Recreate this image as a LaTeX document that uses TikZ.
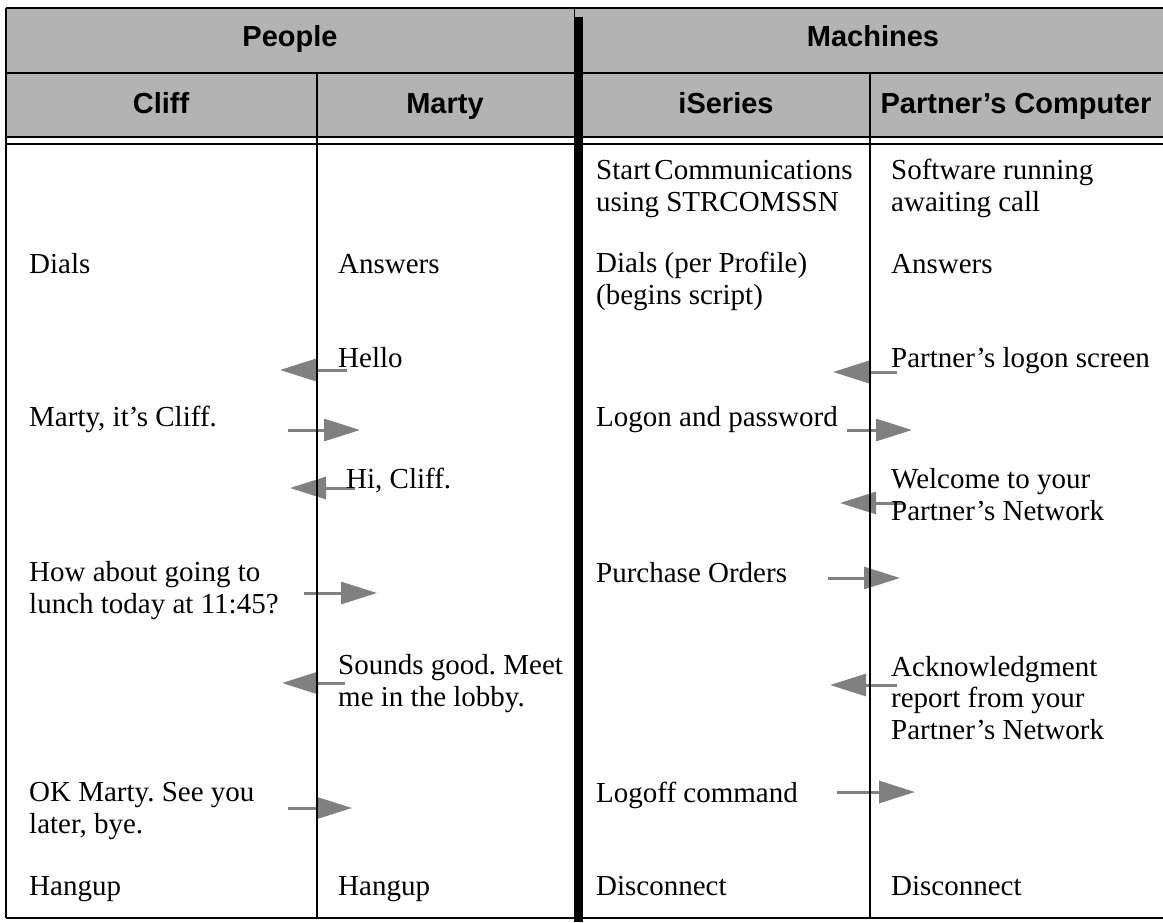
\documentclass[tikz,border=0pt]{standalone}
\usepackage{fontspec}
\setmainfont{Liberation Serif}
\setsansfont{Liberation Sans}
\usetikzlibrary{arrows.meta}
\newcommand{\XL}{6}
\newcommand{\XR}{1163}
\newcommand{\XP}{317}
\newcommand{\XM}{870}
\newcommand{\YB}{918}
\definecolor{hdgray}{RGB}{179,179,179}
\definecolor{msggray}{RGB}{128,128,128}

\begin{document}
\frenchspacing
\begin{tikzpicture}[
    x=1pt, y=-1pt,
    rule/.style={draw=black, line width=2pt},
    col/.style={draw=black, line width=1.5pt},
    msg/.style={draw=msggray, line width=3pt, -{Triangle[length=36pt,width=22pt]}},
    head/.style={anchor=base, inner sep=0pt, font=\sffamily\bfseries\fontsize{29}{32}\selectfont},
    cell/.style={anchor=base west, align=left, inner sep=0pt, font=\fontsize{29}{31.5}\selectfont},
  ]
  \useasboundingbox (0,0) rectangle (\XR,922);

  %% ================= header band =================
  \fill[hdgray] (\XL,8) rectangle (\XR,137);
  \node[head] (hPeople)   at (290,46)   {People};
  \node[head] (hMachines) at (873,46)   {Machines};
  \node[head] (hCliff)    at (161,113)  {Cliff};
  \node[head] (hMarty)    at (445,113)  {Marty};
  \node[head] (hSeries)   at (726,113)  {iSeries};
  \node[head] (hPartner)  at (1016,113) {Partner’s Computer};

  %% ================= messages (drawn under the rules) =================
  \foreach \nm/\xa/\xb/\yy in {hello/347/280/370, itscliff/288/360/430,
      hicliff/355/290/488, lunch/304/377/593, sounds/345/282/683, bye/288/352/808,
      screen/897/833/372, logon/847/912/430, welcome/903/840/503,
      orders/828/900/578, ack/897/830/685, logoff/837/915/792} {
    \coordinate (\nm-s) at (\xa,\yy);
    \coordinate (\nm-e) at (\xb,\yy);
    \draw[msg] (\nm-s) -- (\nm-e);
  }

  % multi-line cells sit on the baseline of their last line
  %% ================= column: Cliff =================
  \node[cell] (cDials) at (29,273) {Dials};
  \node[cell] (cIts)   at (29,426) {Marty, it’s Cliff.};
  \node[cell] (cLunch) at (29,613) {How about going to\\lunch today at 11:45?};
  \node[cell] (cBye)   at (29,833) {OK Marty. See you\\later, bye.};
  \node[cell] (cHang)  at (29,895) {Hangup};

  %% ================= column: Marty =================
  \node[cell] (mAns)    at (338,273) {Answers};
  \node[cell] (mHello)  at (338,367) {Hello};
  \node[cell] (mHi)     at (346,488) {Hi, Cliff.};
  \node[cell] (mSounds) at (338,706) {Sounds good. Meet\\me in the lobby.};
  \node[cell] (mHang)   at (338,895) {Hangup};

  %% ================= column: iSeries =================
  \node[cell] (sStart)  at (596,211) {Start\hspace{0.12em}Communications\\using STRCOMSSN};
  \node[cell] (sDials)  at (596,304) {Dials (per Profile)\\(begins script)};
  \node[cell] (sLogon)  at (596,426) {Logon and password};
  \node[cell] (sOrders) at (596,582) {Purchase Orders};
  \node[cell] (sLogoff) at (596,802) {Logoff command};
  \node[cell] (sDisc)   at (596,895) {Disconnect};

  %% ================= column: Partner's Computer =================
  \node[cell] (pSoft)    at (891,211) {Software running\\awaiting call};
  \node[cell] (pAns)     at (891,273) {Answers};
  \node[cell] (pScreen)  at (891,367) {Partner’s logon screen};
  \node[cell] (pWelcome) at (891,520) {Welcome to your\\Partner’s Network};
  \node[cell] (pAck)     at (891,739) {Acknowledgment\\report from your\\Partner’s Network};
  \node[cell] (pDisc)    at (891,895) {Disconnect};

  %% ================= table rules =================
  \draw[rule, line width=2.7pt] (\XL,8) -- (\XR,8);
  \draw[rule] (\XL,73) -- (\XR,73);
  \draw[rule] (\XL,137) -- (\XR,137);
  \draw[rule] (\XL,144) -- (\XR,144);
  \draw[rule] (\XL,\YB) -- (\XR,\YB);
  \draw[rule, line width=2.3pt] (\XL,8) -- (\XL,\YB);
  \draw[col] (\XP,73) -- (\XP,\YB);
  \draw[col] (\XM,73) -- (\XM,\YB);
  \draw[col] (574.5,8) -- (574.5,922);
  % heavy bar between people and machines
  \fill[black] (574,17) rectangle (583,922);

\end{tikzpicture}
\end{document}
